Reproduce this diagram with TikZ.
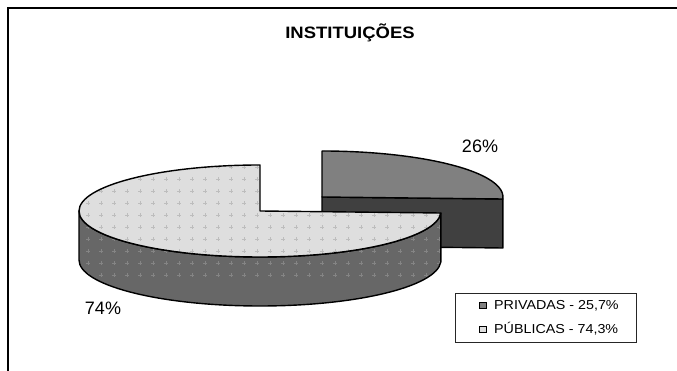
\documentclass[tikz,border=0pt]{standalone}
\usepackage{fontspec}
\setmainfont{Liberation Sans}
\usetikzlibrary{calc}
\definecolor{privtop}{HTML}{808080}
\definecolor{privside}{HTML}{404040}
\definecolor{pubtop}{HTML}{DEDEDE}
\definecolor{pubside}{HTML}{676767}
\definecolor{pubtopplus}{HTML}{BDBDBD}
\definecolor{pubsideplus}{HTML}{858585}
\tikzset{
  slice/.style={draw=black, line width=1.4pt, line join=round},
  pctlabel/.style={inner sep=0pt, font=\fontsize{18}{18}\selectfont},
  legtext/.style={inner sep=0pt, anchor=base west, font=\fontsize{13}{13}\selectfont},
  legmark/.style={draw=black, line width=0.8pt, minimum size=6.5pt, inner sep=0pt},
  pluses/.style={line width=0.6pt}
}
\newcommand{\plusgrid}[1]{%
  \foreach \px in {62,75,...,458}{%
    \foreach \py in {96,108,...,228}{%
      \draw[pluses,#1] (\px-1.8,\py)--(\px+1.8,\py) (\px,\py-1.8)--(\px,\py+1.8);
    }%
  }%
}
\begin{document}
\begin{tikzpicture}[x=1pt,y=1pt]
\useasboundingbox (0,0) rectangle (677,371);
\fill[white] (0,0) rectangle (677,371);
% frame
\draw[line width=1.5pt] (8,0) -- (8,363) -- (677,363);

% title
\node[anchor=base, inner sep=0pt] (title) at (350,332)
  {\scalebox{1.12}[1]{\fontsize{16.5}{16.5}\selectfont\bfseries INSTITUIÇÕES}};

% centres
\coordinate (C1) at (260,160);
\coordinate (C2) at (322,174);
\coordinate (P0) at ($(C2)+(-2.5:181pt and 46pt)$);
\coordinate (Q0) at ($(C1)+(-2.5:181pt and 46pt)$);
\coordinate (Q180) at ($(C1)+(-181,0)$);
\coordinate (Q90) at ($(C1)+(0,46)$);

% private slice: front cut face
\path[slice, fill=privside] (C2) -- (P0) -- ($(P0)+(0,-49)$) -- ($(C2)+(0,-49)$) -- cycle;
% private slice: top face
\path[slice, fill=privtop] (C2) -- (P0)
  arc[start angle=-2.5, end angle=90, x radius=181pt, y radius=46pt] -- cycle;

% public slice: side
\path[slice, fill=pubside, path picture={\plusgrid{pubsideplus}}] (Q180)
  arc[start angle=180, end angle=357.5, x radius=181pt, y radius=46pt]
  -- ($(Q0)+(0,-49)$)
  arc[start angle=357.5, end angle=180, x radius=181pt, y radius=46pt]
  -- cycle;
% public slice: top face
\path[slice, fill=pubtop, path picture={\plusgrid{pubtopplus}}] (C1) -- (Q90)
  arc[start angle=90, end angle=357.5, x radius=181pt, y radius=46pt] -- cycle;

% percentage labels
\node[pctlabel, anchor=base] (l26) at (480,218) {26\%};
\node[pctlabel, anchor=base] (l74) at (103,56) {74\%};

% legend
\node[draw=black!85, line width=0.8pt, minimum width=181pt, minimum height=49pt, inner sep=0pt, anchor=south west] (legend) at (455,28) {};
\node[legmark, fill=privtop] (m1) at (483,65.5) {};
\node[legmark, fill=pubtop] (m2) at (483,41.5) {};
\node[legtext] (t1) at (494,61) {\scalebox{1.1}[1]{PRIVADAS - 25,7\%}};
\node[legtext] (t2) at (494,37) {\scalebox{1.1}[1]{PÚBLICAS - 74,3\%}};
\end{tikzpicture}
\end{document}
